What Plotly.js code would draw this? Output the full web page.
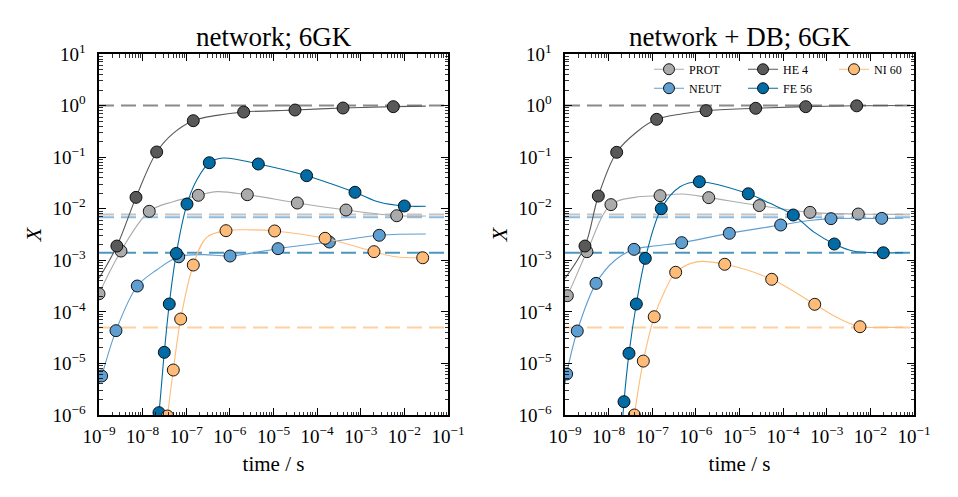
<!DOCTYPE html>
<html>
<head>
<meta charset="utf-8">
<script src="https://cdn.plot.ly/plotly-3.0.1.min.js"></script>
<style>
  html, body { margin: 0; padding: 0; background: #fff; }
  #chart { width: 958px; height: 497px; }
</style>
</head>
<body>
<div id="chart"></div>
<script>
// Species, colours and equilibrium (NSE) mass fractions
const species = ['PROT', 'NEUT', 'HE 4', 'FE 56', 'NI 60'];
const colors  = ['#ABABAB', '#5F9ED1', '#595959', '#006BA4', '#FFBC79'];
const dashColors = ['rgba(171,171,171,0.7)', 'rgba(95,158,209,0.7)', 'rgba(89,89,89,0.7)',
                    'rgba(0,107,164,0.7)', 'rgba(255,188,121,0.7)'];
const eqX = [7.7e-3, 6.8e-3, 1.0, 1.4e-3, 5.0e-5];

const panelTitles = ['network; 6GK', 'network + DB; 6GK'];

// Axis ticks
const xTickVals = [1e-9, 1e-8, 1e-7, 1e-6, 1e-5, 1e-4, 1e-3, 1e-2, 1e-1];
const xTickText = ['10<sup>−9</sup>', '10<sup>−8</sup>', '10<sup>−7</sup>', '10<sup>−6</sup>', '10<sup>−5</sup>',
                   '10<sup>−4</sup>', '10<sup>−3</sup>', '10<sup>−2</sup>', '10<sup>−1</sup>'];
const yTickVals = [1e-6, 1e-5, 1e-4, 1e-3, 1e-2, 1e-1, 1e0, 1e1];
const yTickText = ['10<sup>−6</sup>', '10<sup>−5</sup>', '10<sup>−4</sup>', '10<sup>−3</sup>',
                   '10<sup>−2</sup>', '10<sup>−1</sup>', '10<sup>0</sup>', '10<sup>1</sup>'];

// ---------------- network ----------------
const netProtT  = [1.0e-9, 3.19e-9, 1.42e-8, 5.01e-8, 1.89e-7, 5.01e-7, 2.51e-6, 3.52e-5, 4.59e-4, 6.67e-3, 3.09e-2];
const netProtX  = [2.24e-4, 1.51e-3, 8.91e-3, 1.37e-2, 1.82e-2, 2.14e-2, 1.87e-2, 1.29e-2, 9.44e-3, 7.31e-3, 7.24e-3];
const netProtMT = [1.0e-9, 3.19e-9, 1.42e-8, 1.89e-7, 2.51e-6, 3.52e-5, 4.59e-4, 6.67e-3];
const netProtMX = [2.24e-4, 1.51e-3, 8.91e-3, 1.82e-2, 1.87e-2, 1.29e-2, 9.44e-3, 7.31e-3];

const netNeutT  = [1.0e-9, 1.15e-9, 2.45e-9, 7.55e-9, 2.09e-8, 6.71e-8, 2.51e-7, 1.01e-6, 1.27e-5, 1.91e-4, 2.66e-3, 3.09e-2];
const netNeutX  = [3.98e-6, 5.70e-6, 4.32e-5, 3.17e-4, 6.49e-4, 1.17e-3, 1.29e-3, 1.21e-3, 1.68e-3, 2.26e-3, 3.05e-3, 3.24e-3];
const netNeutMT = [1.15e-9, 2.45e-9, 7.55e-9, 6.71e-8, 1.01e-6, 1.27e-5, 1.91e-4, 2.66e-3];
const netNeutMX = [5.70e-6, 4.32e-5, 3.17e-4, 1.17e-3, 1.21e-3, 1.68e-3, 2.26e-3, 3.05e-3];

const netHe4T  = [1.0e-9, 2.57e-9, 7.05e-9, 2.10e-8, 5.01e-8, 1.45e-7, 5.01e-7, 2.07e-6, 3.11e-5, 3.92e-4, 5.57e-3, 3.09e-2];
const netHe4X  = [4.47e-4, 1.89e-3, 1.66e-2, 0.126, 0.290, 0.509, 0.646, 0.750, 0.820, 0.897, 0.953, 0.977];
const netHe4MT = [2.57e-9, 7.05e-9, 2.10e-8, 1.45e-7, 2.07e-6, 3.11e-5, 3.92e-4, 5.57e-3];
const netHe4MX = [1.89e-3, 1.66e-2, 0.126, 0.509, 0.750, 0.820, 0.897, 0.953];

const netFe56T  = [1.91e-8, 2.37e-8, 3.14e-8, 4.08e-8, 5.92e-8, 1.04e-7, 1.74e-7, 3.38e-7, 7.08e-7, 4.49e-6, 5.75e-5, 7.38e-4, 2.75e-3, 9.98e-3, 3.09e-2];
const netFe56X  = [2.51e-7, 1.11e-6, 1.64e-5, 1.42e-4, 1.36e-3, 1.23e-2, 3.61e-2, 7.80e-2, 9.62e-2, 7.36e-2, 4.37e-2, 2.08e-2, 1.33e-2, 1.13e-2, 1.12e-2];
const netFe56MT = [2.37e-8, 3.14e-8, 4.08e-8, 5.92e-8, 1.04e-7, 3.38e-7, 4.49e-6, 5.75e-5, 7.38e-4, 9.98e-3];
const netFe56MX = [1.11e-6, 1.64e-5, 1.42e-4, 1.36e-3, 1.23e-2, 7.80e-2, 7.36e-2, 4.37e-2, 2.08e-2, 1.13e-2];

const netNi60T  = [3.16e-8, 3.72e-8, 5.05e-8, 7.45e-8, 1.45e-7, 2.95e-7, 8.15e-7, 3.16e-6, 1.06e-5, 1.52e-4, 2.01e-3, 6.31e-3, 2.63e-2, 3.09e-2];
const netNi60X  = [2.51e-7, 9.55e-7, 7.45e-6, 7.26e-5, 8.09e-4, 2.79e-3, 3.75e-3, 3.89e-3, 3.70e-3, 2.67e-3, 1.47e-3, 1.17e-3, 1.12e-3, 1.12e-3];
const netNi60MT = [3.72e-8, 5.05e-8, 7.45e-8, 1.45e-7, 8.15e-7, 1.06e-5, 1.52e-4, 2.01e-3, 2.63e-2];
const netNi60MX = [9.55e-7, 7.45e-6, 7.26e-5, 8.09e-4, 3.75e-3, 3.70e-3, 2.67e-3, 1.47e-3, 1.12e-3];

// ---------------- network + DB ----------------
const dbProtT  = [1.0e-9, 1.13e-9, 3.18e-9, 1.13e-8, 4.03e-8, 1.51e-7, 5.01e-7, 1.97e-6, 2.84e-5, 4.13e-4, 5.28e-3, 5.62e-2];
const dbProtX  = [1.78e-4, 2.06e-4, 1.47e-3, 1.20e-2, 1.66e-2, 1.79e-2, 1.93e-2, 1.64e-2, 1.15e-2, 8.51e-3, 7.89e-3, 7.76e-3];
const dbProtMT = [1.13e-9, 3.18e-9, 1.13e-8, 1.51e-7, 1.97e-6, 2.84e-5, 4.13e-4, 5.28e-3];
const dbProtMX = [2.06e-4, 1.47e-3, 1.20e-2, 1.79e-2, 1.64e-2, 1.15e-2, 8.51e-3, 7.89e-3];

const dbNeutT  = [1.0e-9, 1.09e-9, 1.91e-9, 5.14e-9, 1.40e-8, 3.82e-8, 1.26e-7, 4.73e-7, 5.85e-6, 8.79e-5, 3.98e-4, 1.25e-3, 1.82e-2, 5.62e-2];
const dbNeutX  = [3.98e-6, 6.24e-6, 4.26e-5, 3.57e-4, 1.0e-3, 1.63e-3, 1.91e-3, 2.20e-3, 3.33e-3, 4.83e-3, 5.89e-3, 6.41e-3, 6.50e-3, 6.53e-3];
const dbNeutMT = [1.09e-9, 1.91e-9, 5.14e-9, 3.82e-8, 4.73e-7, 5.85e-6, 8.79e-5, 1.25e-3, 1.82e-2];
const dbNeutMX = [6.24e-6, 4.26e-5, 3.57e-4, 1.63e-3, 2.20e-3, 3.33e-3, 4.83e-3, 6.41e-3, 6.50e-3];

const dbHe4T  = [1.0e-9, 2.87e-9, 5.81e-9, 1.53e-8, 4.40e-8, 1.26e-7, 5.01e-7, 1.71e-6, 2.35e-5, 3.29e-4, 4.85e-3, 5.62e-2];
const dbHe4X  = [4.47e-4, 1.89e-3, 1.76e-2, 0.124, 0.308, 0.541, 0.692, 0.796, 0.885, 0.953, 0.989, 1.0];
const dbHe4MT = [2.87e-9, 5.81e-9, 1.53e-8, 1.26e-7, 1.71e-6, 2.35e-5, 3.29e-4, 4.85e-3];
const dbHe4MX = [1.89e-3, 1.76e-2, 0.124, 0.541, 0.796, 0.885, 0.953, 0.989];

const dbFe56T  = [1.91e-8, 2.25e-8, 2.93e-8, 4.32e-8, 6.93e-8, 1.61e-7, 4.33e-7, 1.20e-6, 1.59e-5, 5.01e-5, 1.71e-4, 5.01e-4, 1.49e-3, 3.98e-3, 1.98e-2, 5.62e-2];
const dbFe56X  = [2.51e-7, 1.81e-6, 1.57e-5, 1.42e-4, 1.09e-3, 1.0e-2, 2.67e-2, 3.34e-2, 1.95e-2, 1.27e-2, 7.55e-3, 3.55e-3, 2.07e-3, 1.51e-3, 1.40e-3, 1.40e-3];
const dbFe56MT = [2.25e-8, 2.93e-8, 4.32e-8, 6.93e-8, 1.61e-7, 1.20e-6, 1.59e-5, 1.71e-4, 1.49e-3, 1.98e-2];
const dbFe56MX = [1.81e-6, 1.57e-5, 1.42e-4, 1.09e-3, 1.0e-2, 3.34e-2, 1.95e-2, 7.55e-3, 2.07e-3, 1.40e-3];

const dbNi60T  = [3.16e-8, 3.89e-8, 6.24e-8, 1.11e-7, 1.95e-7, 3.44e-7, 1.05e-6, 4.58e-6, 5.47e-5, 5.30e-4, 1.70e-3, 5.78e-3, 2.0e-2, 5.62e-2];
const dbNi60X  = [2.51e-7, 1.0e-6, 1.11e-5, 8.05e-5, 2.57e-4, 5.85e-4, 9.33e-4, 8.36e-4, 4.28e-4, 1.40e-4, 7.83e-5, 5.15e-5, 5.01e-5, 5.01e-5];
const dbNi60MT = [3.89e-8, 6.24e-8, 1.11e-7, 3.44e-7, 4.58e-6, 5.47e-5, 5.30e-4, 5.78e-3];
const dbNi60MX = [1.0e-6, 1.11e-5, 8.05e-5, 5.85e-4, 8.36e-4, 4.28e-4, 1.40e-4, 5.15e-5];

const panels = [
  { xa: 'x',  ya: 'y',  series: [
      [netProtT, netProtX, netProtMT, netProtMX],
      [netNeutT, netNeutX, netNeutMT, netNeutMX],
      [netHe4T,  netHe4X,  netHe4MT,  netHe4MX],
      [netFe56T, netFe56X, netFe56MT, netFe56MX],
      [netNi60T, netNi60X, netNi60MT, netNi60MX]] },
  { xa: 'x2', ya: 'y2', series: [
      [dbProtT, dbProtX, dbProtMT, dbProtMX],
      [dbNeutT, dbNeutX, dbNeutMT, dbNeutMX],
      [dbHe4T,  dbHe4X,  dbHe4MT,  dbHe4MX],
      [dbFe56T, dbFe56X, dbFe56MT, dbFe56MX],
      [dbNi60T, dbNi60X, dbNi60MT, dbNi60MX]] }
];

const traces = [];
panels.forEach(p => {
  // equilibrium values as dashed horizontal lines
  species.forEach((s, i) => {
    traces.push({
      x: [xTickVals[0], xTickVals[xTickVals.length - 1]], y: [eqX[i], eqX[i]],
      xaxis: p.xa, yaxis: p.ya, mode: 'lines', showlegend: false, hoverinfo: 'skip',
      line: { color: dashColors[i], width: 2, dash: '15px,7px' }
    });
  });
  // abundance evolution: thin line plus circle markers
  p.series.forEach((d, i) => {
    traces.push({
      x: d[0], y: d[1], xaxis: p.xa, yaxis: p.ya, mode: 'lines', showlegend: false,
      line: { color: colors[i], width: 1.1, shape: 'spline', smoothing: 1 }
    });
    traces.push({
      x: d[2], y: d[3], xaxis: p.xa, yaxis: p.ya, mode: 'markers', showlegend: false,
      marker: { color: colors[i], size: 12, line: { color: '#000', width: 0.9 } }
    });
  });
});

// legend entries, three columns inside the right panel
const legendOf = ['legend', 'legend', 'legend2', 'legend2', 'legend3'];
species.forEach((s, i) => {
  traces.push({
    x: [null], y: [null], xaxis: 'x2', yaxis: 'y2', name: s, mode: 'lines+markers',
    legend: legendOf[i], showlegend: true,
    line: { color: colors[i], width: 1.1 },
    marker: { color: colors[i], size: 11, line: { color: '#000', width: 0.9 } }
  });
});

// minor ticks at 2..9 within each decade
const minorX = [], minorY = [];
for (let e = -9; e < -1; e++) for (let k = 2; k <= 9; k++) minorX.push(k * Math.pow(10, e));
for (let e = -6; e < 1; e++) for (let k = 2; k <= 9; k++) minorY.push(k * Math.pow(10, e));

const FONT = 'Liberation Serif, Times New Roman, serif';

function xAxis(domain) {
  return {
    type: 'log', range: [-9, -1], domain: domain,
    tickmode: 'array', tickvals: xTickVals, ticktext: xTickText, tickangle: 0,
    ticks: 'inside', ticklen: 7, tickwidth: 1, tickcolor: '#000',
    minor: { tickmode: 'array', tickvals: minorX, ticks: 'inside', ticklen: 3.5, tickwidth: 0.8, tickcolor: '#000', showgrid: false },
    showline: true, linecolor: '#000', linewidth: 1.6, mirror: 'ticks',
    showgrid: false, zeroline: false, ticklabelstandoff: 4,
    tickfont: { family: FONT, size: 19, color: '#000' },
    title: { text: 'time / s', font: { family: FONT, size: 21, color: '#000' }, standoff: 10 }
  };
}
function yAxis(anchor) {
  return {
    type: 'log', range: [-6, 1], domain: [0, 1], anchor: anchor,
    tickmode: 'array', tickvals: yTickVals, ticktext: yTickText,
    ticks: 'inside', ticklen: 7, tickwidth: 1, tickcolor: '#000',
    minor: { tickmode: 'array', tickvals: minorY, ticks: 'inside', ticklen: 3.5, tickwidth: 0.8, tickcolor: '#000', showgrid: false },
    showline: true, linecolor: '#000', linewidth: 1.6, mirror: 'ticks',
    showgrid: false, zeroline: false, ticklabelstandoff: 8,
    tickfont: { family: FONT, size: 19, color: '#000' },
    title: { text: '<i>X</i>', font: { family: FONT, size: 22, color: '#000' }, standoff: 5 }
  };
}

const leftDom = [99 / 958, 448 / 958];
const rightDom = [565 / 958, 914 / 958];

const legendBase = {
  orientation: 'v', xref: 'paper', yref: 'paper', xanchor: 'left', yanchor: 'top', y: 0.998,
  bgcolor: 'rgba(0,0,0,0)', borderwidth: 0, itemwidth: 30,
  font: { family: FONT, size: 12, color: '#000' }
};

const layout = {
  width: 958, height: 497,
  margin: { l: 0, r: 0, t: 54, b: 82, pad: 0 },
  paper_bgcolor: '#fff', plot_bgcolor: '#fff',
  font: { family: FONT, color: '#000' },
  xaxis: Object.assign(xAxis(leftDom), { anchor: 'y' }),
  yaxis: Object.assign(yAxis('x'), {}),
  xaxis2: Object.assign(xAxis(rightDom), { anchor: 'y2' }),
  yaxis2: Object.assign(yAxis('x2'), {}),
  legend:  Object.assign({}, legendBase, { x: 649 / 958 }),
  legend2: Object.assign({}, legendBase, { x: 743 / 958 }),
  legend3: Object.assign({}, legendBase, { x: 834 / 958 }),
  annotations: panelTitles.map((t, i) => ({
    text: t, xref: 'paper', yref: 'paper',
    x: (i === 0 ? (leftDom[0] + leftDom[1]) : (rightDom[0] + rightDom[1])) / 2,
    y: 1.047, xanchor: 'center', yanchor: 'middle', showarrow: false,
    font: { family: FONT, size: 27, color: '#000' }
  })),
  showlegend: true
};

Plotly.newPlot('chart', traces, layout, { staticPlot: true, displayModeBar: false });
</script>
</body>
</html>
